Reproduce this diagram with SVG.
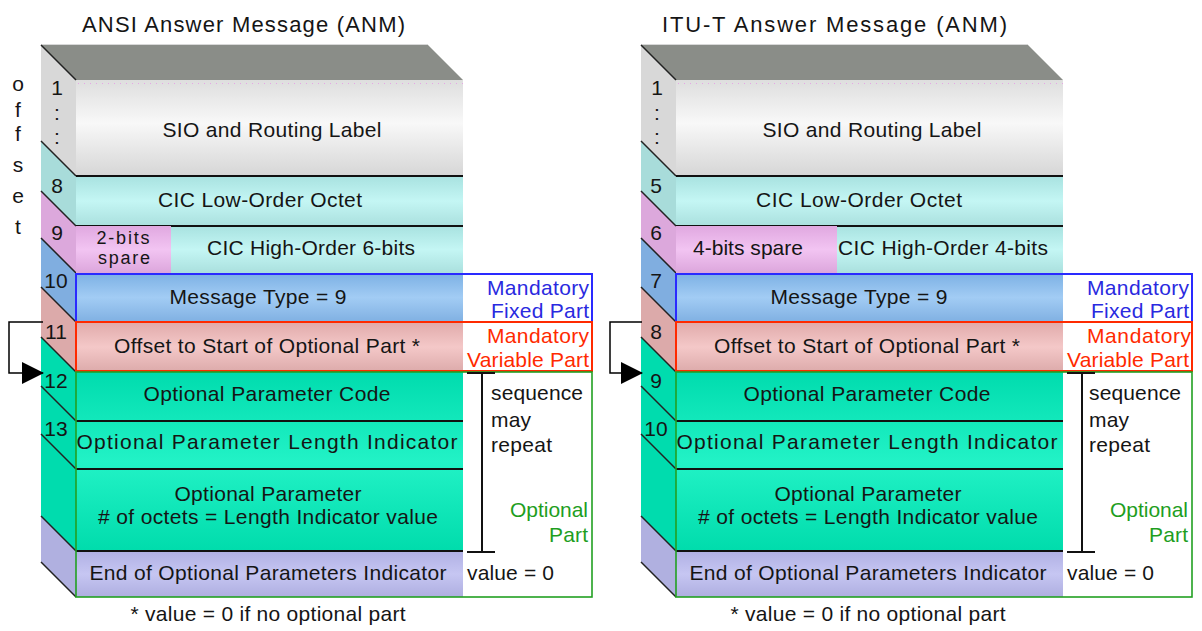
<svg xmlns="http://www.w3.org/2000/svg" width="1202" height="631" viewBox="0 0 1202 631">
<style>
text{font-family:"Liberation Sans",Arial,sans-serif;font-size:21px;fill:#151515}
.c{text-anchor:middle}
.r{text-anchor:end}
.title{font-size:22px}
.sm{font-size:18px}
.sep{stroke:#111;stroke-width:2;fill:none}
.diag{stroke:#222;stroke-width:1.5;fill:none}
.blue{fill:#2a2ae0}
.red{fill:#ff2a00}
.green{fill:#1e9e1e}
.bxb{fill:none;stroke:#2a2aff;stroke-width:2}
.bxr{fill:none;stroke:#ff2a00;stroke-width:2}
.bxg{fill:none;stroke:#22a022;stroke-width:1.6}
.brk{stroke:#111;stroke-width:2;fill:none}
</style>
<defs>
<linearGradient id="gSio" x1="0" y1="0" x2="0" y2="1"><stop offset="0" stop-color="#dedede"/><stop offset="0.45" stop-color="#f8f8f8"/><stop offset="1" stop-color="#d6d6d6"/></linearGradient>
<linearGradient id="gCyan" x1="0" y1="0" x2="0" y2="1"><stop offset="0" stop-color="#a8e2e0"/><stop offset="0.5" stop-color="#c4f6f4"/><stop offset="1" stop-color="#aae0de"/></linearGradient>
<linearGradient id="gPink" x1="0" y1="0" x2="0" y2="1"><stop offset="0" stop-color="#e0a8e0"/><stop offset="0.5" stop-color="#f2c4f2"/><stop offset="1" stop-color="#dca6dc"/></linearGradient>
<linearGradient id="gBlue" x1="0" y1="0" x2="0" y2="1"><stop offset="0" stop-color="#7cb0e4"/><stop offset="0.5" stop-color="#a2ccf4"/><stop offset="1" stop-color="#80b0e2"/></linearGradient>
<linearGradient id="gRose" x1="0" y1="0" x2="0" y2="1"><stop offset="0" stop-color="#e0aaaa"/><stop offset="0.5" stop-color="#f4c8c8"/><stop offset="1" stop-color="#dcaaaa"/></linearGradient>
<linearGradient id="gGreen" x1="0" y1="0" x2="0" y2="1"><stop offset="0" stop-color="#00dcae"/><stop offset="0.5" stop-color="#22f2c6"/><stop offset="1" stop-color="#00dcac"/></linearGradient>
<linearGradient id="gLav" x1="0" y1="0" x2="0" y2="1"><stop offset="0" stop-color="#b0b0e4"/><stop offset="0.5" stop-color="#c6c6f2"/><stop offset="1" stop-color="#aeaee0"/></linearGradient>
<marker id="ah" viewBox="0 0 22 22" refX="21" refY="11" markerWidth="22" markerHeight="22" markerUnits="userSpaceOnUse" orient="auto"><path d="M0,0 L22,11 L0,22 Z" fill="#000"/></marker>
<g id="stack">
<polygon points="41,45 428,45 463,80 76,80" fill="#8a8d88"/>
<line x1="41" y1="44.5" x2="428" y2="44.5" stroke="#d8d8d8" stroke-width="1"/>
<polygon points="41,45 76,80 76,176 41,141" fill="#d8d8d8"/>
<rect x="76" y="80" width="387" height="96" fill="url(#gSio)"/>
<line x1="78" y1="83.5" x2="463" y2="83.5" stroke="#e6a6e6" stroke-width="1" stroke-dasharray="1 5"/>
<polygon points="41,141 76,176 76,226 41,191" fill="#a8dcda"/>
<rect x="76" y="176" width="387" height="50" fill="url(#gCyan)"/>
<polygon points="41,191 76,226 76,273 41,238" fill="#dca8dc"/>
<rect x="171" y="226" width="292" height="47" fill="url(#gCyan)"/>
<polygon points="41,238 76,273 76,322 41,287" fill="#80aee0"/>
<rect x="76" y="273" width="387" height="49" fill="url(#gBlue)"/>
<polygon points="41,287 76,322 76,372 41,337" fill="#dcaaaa"/>
<rect x="76" y="322" width="387" height="50" fill="url(#gRose)"/>
<polygon points="41,337 76,372 76,551 41,516" fill="#00dcae"/>
<rect x="76" y="372" width="387" height="179" fill="url(#gGreen)"/>
<polygon points="41,516 76,551 76,597 41,562" fill="#b0b0e0"/>
<rect x="76" y="551" width="387" height="46" fill="url(#gLav)"/>
<path class="diag" d="M41,45 L76,80 M41,141 L76,176 M41,191 L76,226 M41,238 L76,273 M41,287 L76,322 M41,337 L76,372 M41,386 L76,421 M41,434 L76,469 M41,516 L76,551 M41,562 L76,597"/>
<path class="sep" d="M76,176 H463 M76,226 H463 M76,421 H463 M76,469 H463 M76,551 H463"/>
</g>
</defs>

<g id="ansi">
<text class="title" x="82" y="32" textLength="323">ANSI Answer Message (ANM)</text>
<g id="ansi-offset-label">
<text class="c" x="18" y="91">o</text>
<text class="c" x="18" y="117">f</text>
<text class="c" x="18" y="141">f</text>
<text class="c" x="18" y="172">s</text>
<text class="c" x="18" y="203">e</text>
<text class="c" x="18" y="234">t</text>
</g>
<use href="#stack"/>
<g id="ansi-sio">
<text class="c" x="57" y="95">1</text>
<text class="c" x="57" y="120">:</text>
<text class="c" x="57" y="144">:</text>
<text class="c" x="272" y="137" textLength="219">SIO and Routing Label</text>
</g>
<g id="ansi-cic-low">
<text class="c" x="57" y="193">8</text>
<text class="c" x="260" y="207" textLength="204">CIC Low-Order Octet</text>
</g>
<g id="ansi-cic-high">
<rect x="76" y="226" width="95" height="47" fill="url(#gPink)"/>
<text class="c" x="57" y="240">9</text>
<text class="c sm" x="123" y="243.5" textLength="53">2-bits</text>
<text class="c sm" x="124" y="264" textLength="52">spare</text>
<text class="c" x="311" y="255" textLength="208">CIC High-Order 6-bits</text>
</g>
<g id="ansi-msg-type">
<text class="c" x="56" y="288">10</text>
<text class="c" x="258" y="304" textLength="177">Message Type = 9</text>
<rect class="bxb" x="76" y="274" width="516" height="48"/>
<text class="r blue" x="589" y="295" textLength="102">Mandatory</text>
<text class="r blue" x="589" y="318" textLength="98">Fixed Part</text>
</g>
<g id="ansi-offset">
<text class="c" x="56" y="339">11</text>
<text class="c" x="267" y="353" textLength="306">Offset to Start of Optional Part *</text>
<rect class="bxr" x="76" y="322" width="516" height="49"/>
<text class="r red" x="589" y="343" textLength="102">Mandatory</text>
<text class="r red" x="589" y="367" textLength="122">Variable Part</text>
</g>
<g id="ansi-optional">
<text class="c" x="56" y="388">12</text>
<text class="c" x="56" y="436">13</text>
<text class="c" x="267" y="401" textLength="247">Optional Parameter Code</text>
<text class="c" x="267" y="449" textLength="381">Optional Parameter Length Indicator</text>
<text class="c" x="268" y="501" textLength="187">Optional Parameter</text>
<text class="c" x="268" y="524" textLength="340">&#35; of octets = Length Indicator value</text>
<text x="491" y="400" textLength="92">sequence</text>
<text x="491" y="427" textLength="40">may</text>
<text x="491" y="452" textLength="61">repeat</text>
<text class="r green" x="588" y="517" textLength="78">Optional</text>
<text class="r green" x="588" y="542" textLength="39">Part</text>
</g>
<g id="ansi-end">
<text class="c" x="268" y="580" textLength="357">End of Optional Parameters Indicator</text>
<text x="467" y="580" textLength="87">value = 0</text>
<rect class="bxg" x="76" y="372" width="516" height="225"/>
</g>
<text class="c" x="268" y="621" textLength="275">* value = 0 if no optional part</text>
</g>

<g id="itu" transform="translate(600,0)">
<text class="title" x="62" y="32" textLength="345">ITU-T Answer Message (ANM)</text>
<use href="#stack"/>
<g id="itu-sio">
<text class="c" x="57" y="95">1</text>
<text class="c" x="57" y="120">:</text>
<text class="c" x="57" y="144">:</text>
<text class="c" x="272" y="137" textLength="219">SIO and Routing Label</text>
</g>
<g id="itu-cic-low">
<text class="c" x="56" y="193">5</text>
<text class="c" x="259" y="207" textLength="206">CIC Low-Order Octet</text>
</g>
<g id="itu-cic-high">
<rect x="76" y="226" width="161" height="47" fill="url(#gPink)"/>
<text class="c" x="56" y="240">6</text>
<text class="c" x="148" y="255" textLength="110">4-bits spare</text>
<text class="c" x="343" y="255" textLength="210">CIC High-Order 4-bits</text>
</g>
<g id="itu-msg-type">
<text class="c" x="56" y="288">7</text>
<text class="c" x="259" y="304" textLength="177">Message Type = 9</text>
<rect class="bxb" x="76" y="274" width="516" height="48"/>
<text class="r blue" x="589" y="295" textLength="102">Mandatory</text>
<text class="r blue" x="589" y="318" textLength="98">Fixed Part</text>
</g>
<g id="itu-offset">
<text class="c" x="56" y="339">8</text>
<text class="c" x="267" y="353" textLength="306">Offset to Start of Optional Part *</text>
<rect class="bxr" x="76" y="322" width="516" height="49"/>
<text class="r red" x="591" y="343" textLength="104">Mandatory</text>
<text class="r red" x="589" y="367" textLength="122">Variable Part</text>
</g>
<g id="itu-optional">
<text class="c" x="56" y="388">9</text>
<text class="c" x="56" y="436">10</text>
<text class="c" x="267" y="401" textLength="247">Optional Parameter Code</text>
<text class="c" x="267" y="449" textLength="381">Optional Parameter Length Indicator</text>
<text class="c" x="268" y="501" textLength="187">Optional Parameter</text>
<text class="c" x="268" y="524" textLength="340">&#35; of octets = Length Indicator value</text>
<text x="489" y="400" textLength="92">sequence</text>
<text x="489" y="427" textLength="40">may</text>
<text x="489" y="452" textLength="61">repeat</text>
<text class="r green" x="588" y="517" textLength="78">Optional</text>
<text class="r green" x="588" y="542" textLength="39">Part</text>
</g>
<g id="itu-end">
<text class="c" x="268" y="580" textLength="357">End of Optional Parameters Indicator</text>
<text x="467" y="580" textLength="87">value = 0</text>
<rect class="bxg" x="76" y="372" width="516" height="225"/>
</g>
<text class="c" x="268" y="621" textLength="275">* value = 0 if no optional part</text>
</g>

<g id="connectors">
<polyline points="43,322 9,322 9,373 43,373" fill="none" stroke="#000" stroke-width="1.5" marker-end="url(#ah)"/>
<path class="brk" d="M467,373 H495 M482,373 V552 M467,552 H495"/>
<polyline points="642,322 610,322 610,373 642,373" fill="none" stroke="#000" stroke-width="1.5" marker-end="url(#ah)"/>
<path class="brk" d="M1067,373 H1095 M1082,373 V552 M1067,552 H1095"/>
</g>
</svg>
